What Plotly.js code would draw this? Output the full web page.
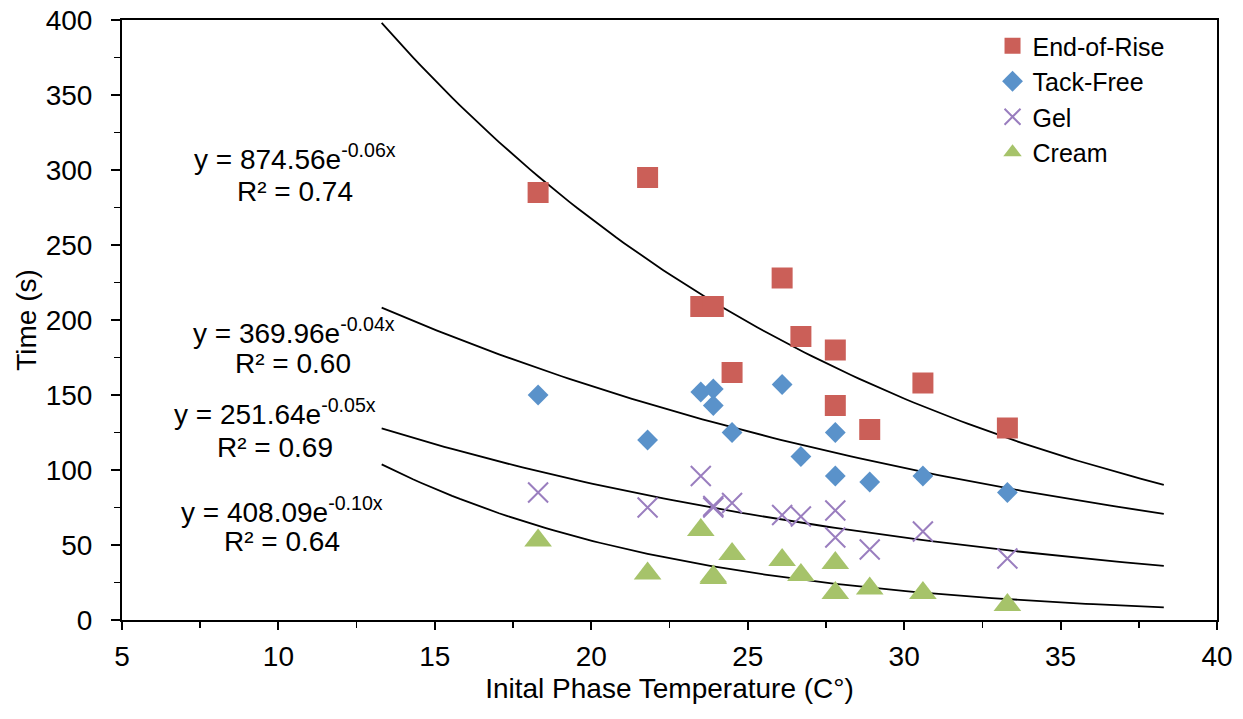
<!DOCTYPE html>
<html>
<head>
<meta charset="utf-8">
<script src="https://cdn.plot.ly/plotly-3.0.1.min.js"></script>
<style>html,body{margin:0;padding:0;background:#fff;}#chart{width:1243px;height:719px;}</style>
</head>
<body>
<div id="chart"></div>
<script>
// ---- data ----
var seriesNames = ["End-of-Rise", "Tack-Free", "Gel", "Cream"];
var endRiseX = [18.3, 21.8, 23.5, 23.9, 24.5, 26.1, 26.7, 27.8, 27.8, 28.9, 30.6, 33.3];
var endRiseY = [285, 295, 209, 209, 165, 228, 189, 180, 143, 127, 158, 128];
var tackFreeX = [18.3, 21.8, 23.5, 23.9, 23.9, 24.5, 26.1, 26.7, 27.8, 27.8, 28.9, 30.6, 33.3];
var tackFreeY = [150, 120, 152, 154, 143, 125, 157, 109, 125, 96, 92, 96, 85];
var gelX = [18.3, 21.8, 23.5, 23.9, 23.9, 24.5, 26.1, 26.7, 27.8, 27.8, 28.9, 30.6, 33.3];
var gelY = [85, 75, 96, 75, 76, 78, 70, 69, 73, 55, 47, 59, 41];
var creamX = [18.3, 21.8, 23.5, 23.9, 23.9, 24.5, 26.1, 26.7, 27.8, 27.8, 28.9, 30.6, 33.3];
var creamY = [53, 31, 60, 29, 28, 44, 40, 30, 38, 18, 21, 18, 10];
var equationTexts = [
  "y = 874.56e<sup>-0.06x</sup>",
  "y = 369.96e<sup>-0.04x</sup>",
  "y = 251.64e<sup>-0.05x</sup>",
  "y = 408.09e<sup>-0.10x</sup>"
];
var r2Texts = ["R² = 0.74", "R² = 0.60", "R² = 0.69", "R² = 0.64"];
var xTickVals = [5, 10, 15, 20, 25, 30, 35, 40];
var yTickVals = [0, 50, 100, 150, 200, 250, 300, 350, 400];

// ---- exponential least-squares trendline (as a spreadsheet would fit it) ----
function expFit(xs, ys) {
  var n = xs.length, sx = 0, sy = 0, sxx = 0, sxy = 0;
  for (var i = 0; i < n; i++) {
    var ly = Math.log(ys[i]);
    sx += xs[i]; sy += ly; sxx += xs[i] * xs[i]; sxy += xs[i] * ly;
  }
  var b = (n * sxy - sx * sy) / (n * sxx - sx * sx);
  var lnA = (sy - b * sx) / n;
  return {a: Math.exp(lnA), b: b};
}
function trendTrace(xs, ys) {
  var f = expFit(xs, ys);
  var x0 = Math.min.apply(null, xs) - 5, x1 = Math.max.apply(null, xs) + 5;
  var tx = [], ty = [];
  for (var k = 0; k <= 100; k++) {
    var x = x0 + (x1 - x0) * k / 100;
    tx.push(x); ty.push(f.a * Math.exp(f.b * x));
  }
  return {x: tx, y: ty, mode: 'lines', type: 'scatter', showlegend: false, hoverinfo: 'skip',
          line: {color: '#000000', width: 1.8}};
}

var colors = ['#CB5F58', '#5A92CA', '#9A7EBF', '#A6C36A'];
var traces = [
  trendTrace(endRiseX, endRiseY),
  trendTrace(tackFreeX, tackFreeY),
  trendTrace(gelX, gelY),
  trendTrace(creamX, creamY),
  {x: endRiseX, y: endRiseY, name: seriesNames[0], mode: 'markers', type: 'scatter',
   marker: {symbol: 'square', size: 21, color: colors[0], line: {width: 0}}},
  {x: tackFreeX, y: tackFreeY, name: seriesNames[1], mode: 'markers', type: 'scatter',
   marker: {symbol: 'diamond', size: 16, color: colors[1], line: {width: 0}}},
  {x: gelX, y: gelY, name: seriesNames[2], mode: 'markers', type: 'scatter',
   marker: {symbol: 'x-thin-open', size: 20, color: colors[2], line: {width: 2, color: colors[2]}}},
  {x: creamX, y: creamY, name: seriesNames[3], mode: 'markers', type: 'scatter',
   marker: {symbol: 'triangle-up', size: 24, color: colors[3], line: {width: 0}}}
];

var fam = 'Liberation Sans, Arial, sans-serif';
// text centres in pixels measured on the reference
var eqPos = [[295, 157], [293.5, 330.5], [275, 412], [282, 510]];
var r2Pos = [[294.5, 191], [292.5, 364], [274.5, 447], [281.5, 541]];
function ann(t, p) {
  return {text: t, xref: 'paper', yref: 'paper',
          x: (p[0] - 122) / 1095, y: (620 - p[1]) / 600,
          xanchor: 'center', yanchor: 'middle', align: 'center', showarrow: false,
          font: {family: fam, size: 28, color: '#000'}};
}
var annotations = [];
for (var i = 0; i < 4; i++) {
  annotations.push(ann(equationTexts[i], eqPos[i]));
  annotations.push(ann(r2Texts[i], r2Pos[i]));
}

var tickFont = {family: fam, size: 28, color: '#000'};
var titleFont = {family: fam, size: 28, color: '#000'};
var legendFont = {family: fam, size: 25, color: '#000'};
var layout = {
  width: 1243, height: 719,
  margin: {l: 122, r: 26, t: 20, b: 99},
  paper_bgcolor: '#ffffff', plot_bgcolor: '#ffffff',
  font: tickFont,
  showlegend: true,
  legend: {x: 0.795, y: 0.995, xanchor: 'left', yanchor: 'top', bgcolor: 'rgba(0,0,0,0)',
           font: legendFont, tracegroupgap: 0, itemsizing: 'trace'},
  xaxis: {range: [5, 40], tickvals: xTickVals, ticks: 'outside', ticklen: 8, tickwidth: 2,
          tickcolor: '#000', showline: true, linecolor: '#000', linewidth: 2, mirror: true,
          showgrid: false, zeroline: false, tickfont: tickFont, ticklabelstandoff: 2,
          minor: {dtick: 2.5, ticks: 'outside', ticklen: 6, tickwidth: 1.5, tickcolor: '#000', showgrid: false},
          title: {text: 'Inital Phase Temperature (C°)', font: titleFont, standoff: 8}},
  yaxis: {range: [0, 400], tickvals: yTickVals, ticks: 'outside', ticklen: 9, tickwidth: 2,
          tickcolor: '#000', showline: true, linecolor: '#000', linewidth: 2, mirror: true,
          showgrid: false, zeroline: false, tickfont: tickFont, ticklabelstandoff: 13,
          minor: {dtick: 25, ticks: 'outside', ticklen: 6, tickwidth: 1.5, tickcolor: '#000', showgrid: false},
          title: {text: 'Time (s)', font: titleFont, standoff: 1}},
  annotations: annotations
};

Plotly.newPlot('chart', traces, layout, {displayModeBar: false, staticPlot: true});
</script>
</body>
</html>
